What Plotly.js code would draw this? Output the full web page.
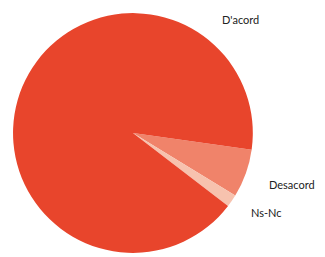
<!DOCTYPE html>
<html><head><meta charset="utf-8">
<script src="https://cdn.plot.ly/plotly-3.0.1.min.js"></script>
<style>html,body{margin:0;padding:0;background:#fff}#c{width:325px;height:257px}</style>
</head><body><div id="c"></div>
<script>
var labels = ["Desacord", "Ns-Nc", "D'acord"];
var values = [6.5, 1.7, 91.8];
var colors = ["#F0836A", "#F7C2AE", "#E8452C"];

var data = [{
  type: 'pie',
  labels: labels,
  values: values,
  sort: false,
  direction: 'clockwise',
  rotation: 98,
  marker: {colors: colors, line: {width: 0}},
  textinfo: 'none',
  hoverinfo: 'label+percent',
  domain: {x: [0.04, 0.778], y: [0.016, 0.949]},
  showlegend: false
}];
var font = {family: 'Lato, "Open Sans", sans-serif', size: 11, color: '#222'};
var layout = {
  width: 325, height: 257,
  margin: {l: 0, r: 0, t: 0, b: 0},
  paper_bgcolor: '#fff',
  showlegend: false,
  annotations: [
    {text: labels[2], x: 240/325, y: 1 - 20/257, xref: 'paper', yref: 'paper', showarrow: false, font: font, xanchor: 'center', yanchor: 'middle'},
    {text: labels[0], x: 292/325, y: 1 - 184/257, xref: 'paper', yref: 'paper', showarrow: false, font: font, xanchor: 'center', yanchor: 'middle'},
    {text: labels[1], x: 266/325, y: 1 - 212/257, xref: 'paper', yref: 'paper', showarrow: false, font: font, xanchor: 'center', yanchor: 'middle'}
  ]
};
Plotly.newPlot('c', data, layout, {displayModeBar: false, staticPlot: true});
</script></body></html>
